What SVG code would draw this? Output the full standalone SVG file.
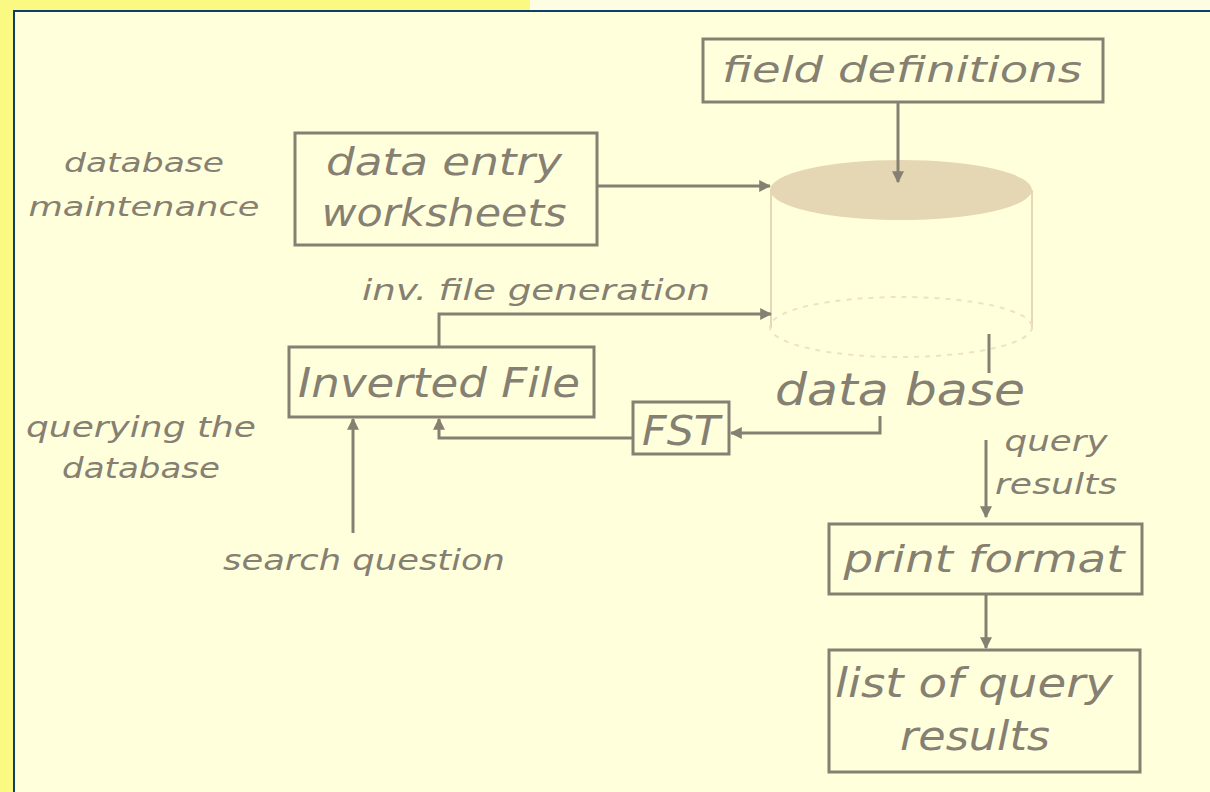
<svg xmlns="http://www.w3.org/2000/svg" width="1210" height="792" viewBox="0 0 1210 792">
<style>
.bx{fill:none;stroke:#858072;stroke-width:3}
.ln{fill:none;stroke:#858072;stroke-width:3}
.t{font-family:"DejaVu Sans",Verdana,sans-serif;font-style:italic;fill:#858072}
.c{text-anchor:middle}
</style>
<defs>
<marker id="ah" viewBox="0 0 10 10" refX="9" refY="5" markerWidth="4" markerHeight="4" orient="auto" markerUnits="strokeWidth">
<path d="M0,0 L10,5 L0,10 z" fill="#858072"/>
</marker>
</defs>
<rect x="0" y="0" width="1210" height="792" fill="#fafa82"/>
<rect x="530" y="0" width="680" height="10" fill="#fdfde4"/>
<rect x="14" y="11" width="1196" height="781" fill="#ffffdc"/>
<path d="M14,792 V11 H1210" fill="none" stroke="#0e3f6c" stroke-width="2"/>

<g id="labels">
<text class="t c" x="144" y="172" font-size="27" textLength="160" lengthAdjust="spacingAndGlyphs">database</text>
<text class="t c" x="144" y="216" font-size="27" textLength="231" lengthAdjust="spacingAndGlyphs">maintenance</text>
<text class="t c" x="141" y="437" font-size="29" textLength="230" lengthAdjust="spacingAndGlyphs">querying the</text>
<text class="t c" x="141" y="478" font-size="29" textLength="158" lengthAdjust="spacingAndGlyphs">database</text>
<text class="t c" x="364" y="570" font-size="29" textLength="282" lengthAdjust="spacingAndGlyphs">search question</text>
<text class="t c" x="536" y="300" font-size="29" textLength="348" lengthAdjust="spacingAndGlyphs">inv. file generation</text>
<text class="t c" x="1056" y="451" font-size="29" textLength="103" lengthAdjust="spacingAndGlyphs">query</text>
<text class="t c" x="1056" y="494" font-size="29" textLength="122" lengthAdjust="spacingAndGlyphs">results</text>
</g>

<g id="field-definitions">
<rect class="bx" x="703" y="39" width="400" height="63"/>
<text class="t c" x="902" y="82" font-size="36" textLength="360" lengthAdjust="spacingAndGlyphs">field definitions</text>
</g>

<g id="data-entry">
<rect class="bx" x="295" y="133" width="302" height="112"/>
<text class="t c" x="444" y="175" font-size="37" textLength="236" lengthAdjust="spacingAndGlyphs">data entry</text>
<text class="t c" x="444" y="226" font-size="37" textLength="245" lengthAdjust="spacingAndGlyphs">worksheets</text>
</g>

<g id="database">
<line x1="771" y1="190" x2="771" y2="328" stroke="#e6d8b6" stroke-width="2"/>
<line x1="1032" y1="190" x2="1032" y2="330" stroke="#e6d8b6" stroke-width="2"/>
<ellipse cx="901" cy="327" rx="131" ry="30" fill="none" stroke="#eee2c6" stroke-width="2" stroke-dasharray="5,6"/>
<ellipse cx="901" cy="190" rx="131" ry="30" fill="#e6d7b4"/>
<text class="t c" x="900" y="405" font-size="44" textLength="250" lengthAdjust="spacingAndGlyphs">data base</text>
</g>

<g id="inverted-file">
<rect class="bx" x="289" y="347" width="305" height="70"/>
<text class="t c" x="439" y="397" font-size="40" textLength="282" lengthAdjust="spacingAndGlyphs">Inverted File</text>
</g>

<g id="fst">
<rect class="bx" x="633" y="402" width="96" height="52"/>
<text class="t c" x="681" y="445" font-size="40" textLength="78" lengthAdjust="spacingAndGlyphs">FST</text>
</g>

<g id="print-format">
<rect class="bx" x="829" y="524" width="313" height="70"/>
<text class="t c" x="984" y="572" font-size="38" textLength="281" lengthAdjust="spacingAndGlyphs">print format</text>
</g>

<g id="list-results">
<rect class="bx" x="829" y="650" width="311" height="122"/>
<text class="t c" x="974" y="697" font-size="40" textLength="278" lengthAdjust="spacingAndGlyphs">list of query</text>
<text class="t c" x="975" y="750" font-size="40" textLength="150" lengthAdjust="spacingAndGlyphs">results</text>
</g>

<g id="connectors">
<path class="ln" d="M898,102 V182" marker-end="url(#ah)"/>
<path class="ln" d="M597,186 H770" marker-end="url(#ah)"/>
<path class="ln" d="M439,347 V314 H771" marker-end="url(#ah)"/>
<path class="ln" d="M880,416 V433 H731" marker-end="url(#ah)"/>
<path class="ln" d="M633,438 H439 V419" marker-end="url(#ah)"/>
<path class="ln" d="M353,533 V419" marker-end="url(#ah)"/>
<path class="ln" d="M989,334 V373"/>
<path class="ln" d="M986,440 V517" marker-end="url(#ah)"/>
<path class="ln" d="M986,594 V648" marker-end="url(#ah)"/>
</g>
</svg>
